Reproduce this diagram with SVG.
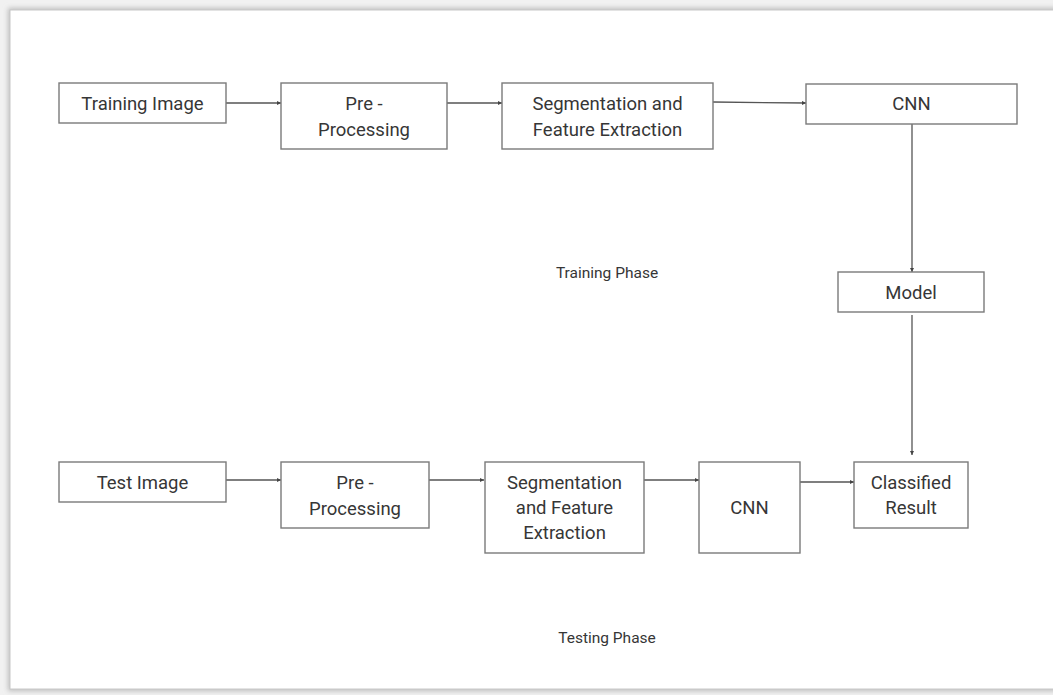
<svg xmlns="http://www.w3.org/2000/svg" width="1053" height="695" viewBox="0 0 1053 695">
  <style>
    .box { fill: #ffffff; stroke: #7a7a7a; stroke-width: 1.4; }
    .lbl { font-family: Roboto, "Liberation Sans", sans-serif; font-size: 18.5px; fill: #363636; text-anchor: middle; }
    .phase { font-family: Roboto, "Liberation Sans", sans-serif; font-size: 15.5px; fill: #363636; text-anchor: middle; }
    .edge { fill: none; stroke: #555555; stroke-width: 1.3; marker-end: url(#arr); }
  </style>
  <defs>
    <marker id="arr" viewBox="0 0 6 6" refX="6" refY="3" markerWidth="4" markerHeight="4" markerUnits="userSpaceOnUse" orient="auto">
      <path d="M0,0 L6,3 L0,6 Z" fill="#444444"/>
    </marker>
    <filter id="sh" x="-5%" y="-5%" width="110%" height="110%">
      <feGaussianBlur stdDeviation="2.5"/>
    </filter>
  </defs>
  <rect x="0" y="0" width="1053" height="695" fill="#f1f1f1"/>
  <rect x="8" y="8" width="1070" height="683" fill="#bdbdbd" filter="url(#sh)"/>
  <rect x="10" y="10" width="1070" height="679" fill="#ffffff" stroke="#c8c8c8" stroke-width="1"/>

  <g id="connectors">
    <line class="edge" x1="226" y1="103" x2="281" y2="103"/>
    <line class="edge" x1="447" y1="103" x2="502" y2="103"/>
    <line class="edge" x1="713" y1="102" x2="806" y2="103"/>
    <line class="edge" x1="912" y1="124" x2="912" y2="272"/>
    <line class="edge" x1="912" y1="315" x2="912" y2="455"/>
    <line class="edge" x1="226" y1="480" x2="281" y2="480"/>
    <line class="edge" x1="429" y1="480" x2="484" y2="480"/>
    <line class="edge" x1="644" y1="480" x2="699" y2="480"/>
    <line class="edge" x1="800" y1="482" x2="854" y2="482"/>
  </g>

  <g id="training-image">
    <rect class="box" x="59" y="83" width="167" height="40"/>
    <text class="lbl" x="142.5" y="109.5">Training Image</text>
  </g>
  <g id="pre-processing-1">
    <rect class="box" x="281" y="83" width="166" height="66"/>
    <text class="lbl" x="364" y="109.5">Pre -</text>
    <text class="lbl" x="364" y="136">Processing</text>
  </g>
  <g id="segmentation-1">
    <rect class="box" x="502" y="83" width="211" height="66"/>
    <text class="lbl" x="607.5" y="109.5">Segmentation and</text>
    <text class="lbl" x="607.5" y="136">Feature Extraction</text>
  </g>
  <g id="cnn-1">
    <rect class="box" x="806" y="84" width="211" height="40"/>
    <text class="lbl" x="911.5" y="109.5">CNN</text>
  </g>
  <g id="training-phase">
    <text class="phase" x="607" y="277.5">Training Phase</text>
  </g>
  <g id="model">
    <rect class="box" x="838" y="272" width="146" height="40"/>
    <text class="lbl" x="911" y="298.5">Model</text>
  </g>

  <g id="test-image">
    <rect class="box" x="59" y="462" width="167" height="40"/>
    <text class="lbl" x="142.5" y="488.5">Test Image</text>
  </g>
  <g id="pre-processing-2">
    <rect class="box" x="281" y="462" width="148" height="66"/>
    <text class="lbl" x="355" y="488.5">Pre -</text>
    <text class="lbl" x="355" y="514.5">Processing</text>
  </g>
  <g id="segmentation-2">
    <rect class="box" x="485" y="462" width="159" height="91"/>
    <text class="lbl" x="564.5" y="488.5">Segmentation</text>
    <text class="lbl" x="564.5" y="513.5">and Feature</text>
    <text class="lbl" x="564.5" y="538.5">Extraction</text>
  </g>
  <g id="cnn-2">
    <rect class="box" x="699" y="462" width="101" height="91"/>
    <text class="lbl" x="749.5" y="513.5">CNN</text>
  </g>
  <g id="classified-result">
    <rect class="box" x="854" y="462" width="114" height="66"/>
    <text class="lbl" x="911" y="488.5">Classified</text>
    <text class="lbl" x="911" y="513.5">Result</text>
  </g>
  <g id="testing-phase">
    <text class="phase" x="607" y="643">Testing Phase</text>
  </g>
</svg>
